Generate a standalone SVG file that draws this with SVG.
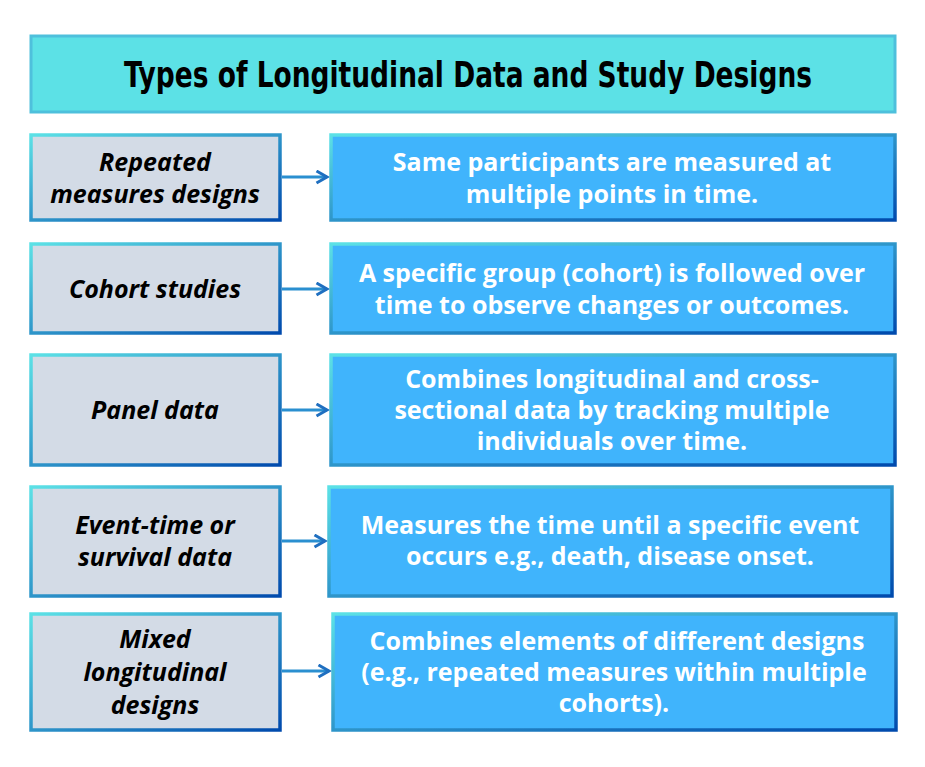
<svg xmlns="http://www.w3.org/2000/svg" width="925" height="767" viewBox="0 0 925 767">
<defs>
<linearGradient id="g" x1="0" y1="0" x2="1" y2="1"><stop offset="0" stop-color="#5ce1e6"/><stop offset="1" stop-color="#004aad"/></linearGradient>
<marker id="ah" viewBox="0 0 10 10" refX="8" refY="5" markerWidth="5" markerHeight="5" orient="auto"><path d="M1,1 L8,5 L1,9" fill="none" stroke="#1f6fc0" stroke-width="2"/></marker>
</defs>
<style>
.l{fill:#d3dbe6;stroke:url(#g);stroke-width:3.5}
.r{fill:#40b4fc;stroke:url(#g);stroke-width:3.5}
.lt{font-family:"Open Sans",sans-serif;font-weight:bold;font-style:italic;font-size:25px;fill:#000;text-anchor:middle}
.rt{font-family:"Open Sans",sans-serif;font-weight:bold;font-size:25px;fill:#fff;text-anchor:middle}
.c{stroke:#2a8fd0;stroke-width:3;fill:none;marker-end:url(#ah)}
</style>
<rect width="925" height="767" fill="#fff"/>
<g id="title"><rect x="31" y="36" width="864" height="76" fill="#5ce1e6" stroke="#4ec0dc" stroke-width="3"/>
<text x="468" y="87" font-family="'DejaVu Sans Condensed','Liberation Sans',sans-serif" font-weight="bold" font-size="36" text-anchor="middle" textLength="688" lengthAdjust="spacingAndGlyphs">Types of Longitudinal Data and Study Designs</text></g>
<g id="connectors">
<line class="c" x1="282" y1="177" x2="327" y2="177"/>
<line class="c" x1="282" y1="289" x2="327" y2="289"/>
<line class="c" x1="282" y1="410" x2="327" y2="410"/>
<line class="c" x1="282" y1="541" x2="325" y2="541"/>
<line class="c" x1="282" y1="671" x2="329" y2="671"/>
</g>
<g id="n1l"><rect class="l" x="31" y="135" width="249" height="85"/><text class="lt" x="155" y="171">Repeated</text><text class="lt" x="155" y="203">measures designs</text></g>
<g id="n1r"><rect class="r" x="331" y="135" width="564" height="85"/><text class="rt" x="612" y="171">Same participants are measured at</text><text class="rt" x="612" y="203">multiple points in time.</text></g>
<g id="n2l"><rect class="l" x="31" y="244" width="249" height="89"/><text class="lt" x="155" y="298">Cohort studies</text></g>
<g id="n2r"><rect class="r" x="331" y="244" width="564" height="89"/><text class="rt" x="612" y="282">A specific group (cohort) is followed over</text><text class="rt" x="612" y="314">time to observe changes or outcomes.</text></g>
<g id="n3l"><rect class="l" x="31" y="355" width="249" height="110"/><text class="lt" x="155" y="419">Panel data</text></g>
<g id="n3r"><rect class="r" x="331" y="355" width="564" height="110"/><text class="rt" x="612" y="388">Combines longitudinal and cross-</text><text class="rt" x="612" y="419">sectional data by tracking multiple</text><text class="rt" x="612" y="450">individuals over time.</text></g>
<g id="n4l"><rect class="l" x="31" y="487" width="249" height="109"/><text class="lt" x="155" y="534">Event-time or</text><text class="lt" x="155" y="566">survival data</text></g>
<g id="n4r"><rect class="r" x="329" y="487" width="563" height="109"/><text class="rt" x="610" y="534">Measures the time until a specific event</text><text class="rt" x="610" y="565">occurs e.g., death, disease onset.</text></g>
<g id="n5l"><rect class="l" x="31" y="614" width="249" height="116"/><text class="lt" x="155" y="648">Mixed</text><text class="lt" x="155" y="681">longitudinal</text><text class="lt" x="155" y="714">designs</text></g>
<g id="n5r"><rect class="r" x="333" y="614" width="563" height="116"/><text class="rt" x="617" y="650">Combines elements of different designs</text><text class="rt" x="614" y="681">(e.g., repeated measures within multiple</text><text class="rt" x="614" y="712">cohorts).</text></g>
</svg>
